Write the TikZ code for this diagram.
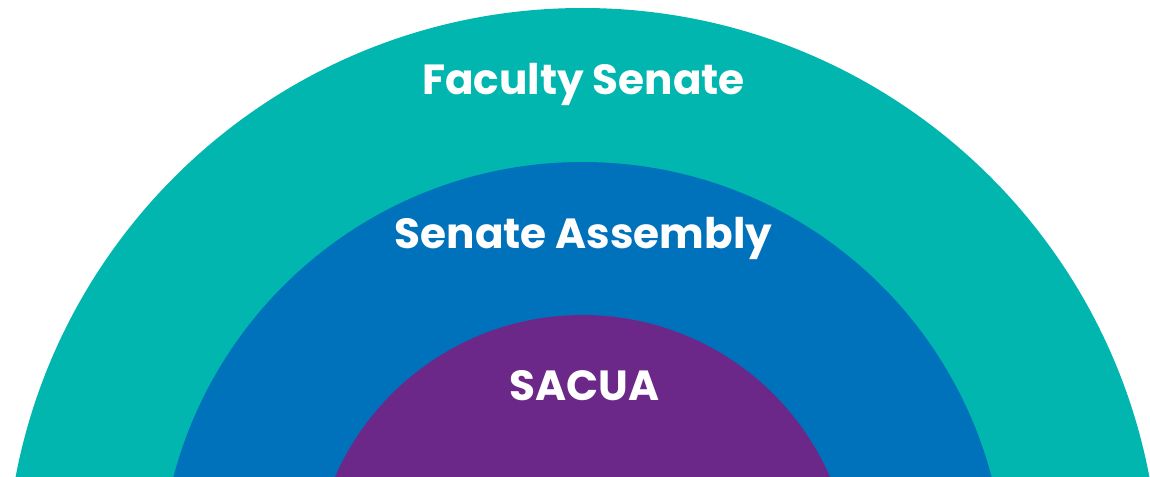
\documentclass[tikz,border=0pt]{standalone}
\usepackage{fontspec}
\setmainfont{Poppins}
\definecolor{senateteal}{HTML}{00B6AF}
\definecolor{assemblyblue}{HTML}{0071BB}
\definecolor{sacuapurple}{HTML}{6C2888}
\begin{document}
\begin{tikzpicture}
	\tikzstyle{every node} = [text=white, font=\fontsize{24}{28}\selectfont\bfseries, anchor=base]
	\useasboundingbox (0.00, 0.00) rectangle (23.00, 9.52);
	\clip (0.00, 0.00) rectangle (23.00, 9.52);
	\coordinate (Centre) at (11.65, -2.18);
	\fill [senateteal] (Centre) circle (11.54);
	\fill [assemblyblue] (Centre) circle (8.46);
	\fill [sacuapurple] (Centre) circle (5.40);
	\node (FacultySenate) at (11.67, 7.62) {Faculty Senate};
	\node (SenateAssembly) at (11.67, 4.56) {Senate Assembly};
	\node (SACUA) at (11.69, 1.52) {SACUA};
\end{tikzpicture}
\end{document}
